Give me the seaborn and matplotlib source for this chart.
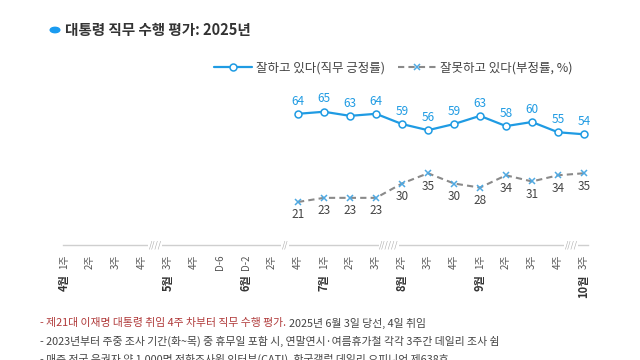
import matplotlib
matplotlib.use("Agg")
import matplotlib.pyplot as plt
import seaborn as sns
import pandas as pd
import numpy as np

sns.set_theme(style="white")
plt.rcParams['font.family'] = ['Noto Sans CJK KR', 'DejaVu Sans']

week_labels = ["1주", "2주", "3주", "4주", "3주", "4주", "D-6", "D-2", "2주", "4주",
               "1주", "2주", "3주", "2주", "3주", "4주", "1주", "2주", "3주", "4주", "3주"]
month_labels = {0: "4월", 4: "5월", 7: "6월", 10: "7월", 13: "8월", 16: "9월", 20: "10월"}
break_marks = {3.5: "////", 8.5: "//", 12.5: "//////", 19.5: "////"}

data_pos = [9, 10, 11, 12, 13, 14, 15, 16, 17, 18, 19, 20]
approve = [64, 65, 63, 64, 59, 56, 59, 63, 58, 60, 55, 54]
disapprove = [21, 23, 23, 23, 30, 35, 30, 28, 34, 31, 34, 35]

df = pd.DataFrame({"pos": data_pos, "approve": approve, "disapprove": disapprove})

BLUE = "#1f9be3"
GRAY = "#8a8a8a"
XBLUE = "#4fa9e2"
TXT = "#333333"

fig = plt.figure(figsize=(6.4, 3.6), dpi=100)
W, H = 640, 360
x0, ppu = 64, 26.0
xl, xr = -0.05, 20.15
ybot_px, ypu = 245, 2.05
ytop = 70
ax = fig.add_axes([(x0 + xl * ppu) / W, 1 - ybot_px / H,
                   (xr - xl) * ppu / W, ytop * ypu / H])

sns.lineplot(data=df, x="pos", y="approve", ax=ax, color=BLUE, lw=1.6,
             marker="o", markersize=5, markerfacecolor="white",
             markeredgecolor=BLUE, markeredgewidth=1.1, label="잘하고 있다(직무 긍정률)")
sns.lineplot(data=df, x="pos", y="disapprove", ax=ax, color=GRAY, lw=1.5,
             linestyle=(0, (3, 2)), marker="x", markersize=4,
             markeredgecolor=XBLUE, markeredgewidth=1.1, label="잘못하고 있다(부정률, %)")

for p, v in zip(data_pos, approve):
    ax.annotate(str(v), (p, v), xytext=(0, 4.5), textcoords="offset points",
                ha="center", va="bottom", color=BLUE, fontsize=8.5)
for p, v in zip(data_pos, disapprove):
    ax.annotate(str(v), (p, v), xytext=(0, -4.5), textcoords="offset points",
                ha="center", va="top", color="#444444", fontsize=8.5)

ax.set_xlim(xl, xr)
ax.set_ylim(0, ytop)
for s in ["top", "right", "left"]:
    ax.spines[s].set_visible(False)
ax.spines["bottom"].set_color("#cfcfcf")
ax.spines["bottom"].set_linewidth(1)
ax.set_yticks([])
ax.set_xticks(range(len(week_labels)))
ax.set_xticklabels(week_labels, rotation=90, fontsize=7, color="#555555", va="top")
ax.tick_params(axis="x", length=3, color="#cfcfcf", pad=4)
ax.set_xlabel("")
ax.set_ylabel("")

for i, m in month_labels.items():
    ax.annotate(m, (i, 0), xycoords="data", xytext=(0, -21), textcoords="offset points",
                rotation=90, ha="center", va="top", fontsize=8, color="#333333",
                fontweight="bold")

for bx, s in break_marks.items():
    ax.annotate(s, (bx, 0), xytext=(0, 0), textcoords="offset points",
                ha="center", va="center", fontsize=6, color="#aaaaaa",
                style="italic", annotation_clip=False,
                bbox=dict(boxstyle="square,pad=0.05", fc="white", ec="none"))

leg = ax.legend(loc="center left", bbox_to_anchor=(214 / W, 1 - 68 / H),
                bbox_transform=fig.transFigure, ncol=2, frameon=False,
                fontsize=9, handlelength=3.0, handletextpad=0.4, columnspacing=1.0,
                borderaxespad=0, borderpad=0)
for t in leg.get_texts():
    t.set_color("#444444")

# title
fig.patches.append(plt.Circle((55 / W, 1 - 30 / H), 0.0075, transform=fig.transFigure,
                              color="#1a9bf0", figure=fig))
fig.text(65 / W, 1 - 30 / H, "대통령 직무 수행 평가: 2025년", fontsize=10.5,
         fontweight="bold", color=TXT, va="center", ha="left")

# footnotes
fs = 7.8
t1 = fig.text(40 / W, 1 - 323 / H, "- 제21대 이재명 대통령 취임 4주 차부터 직무 수행 평가.",
              fontsize=fs, color="#b03a3a", va="center", ha="left")
fig.canvas.draw()
bb = t1.get_window_extent()
fig.text(bb.x1 / W + 0.004, 1 - 323 / H, "2025년 6월 3일 당선, 4일 취임",
         fontsize=fs, color="#444444", va="center", ha="left")
fig.text(40 / W, 1 - 341 / H,
         "- 2023년부터 주중 조사 기간(화~목) 중 휴무일 포함 시, 연말연시·여름휴가철 각각 3주간 데일리 조사 쉼",
         fontsize=fs, color="#444444", va="center", ha="left")
fig.text(40 / W, 1 - 359 / H,
         "- 매주 전국 유권자 약 1,000명 전화조사원 인터뷰(CATI), 한국갤럽 데일리 오피니언 제638호",
         fontsize=fs, color="#444444", va="center", ha="left")

fig.savefig("out.png", dpi=100)
